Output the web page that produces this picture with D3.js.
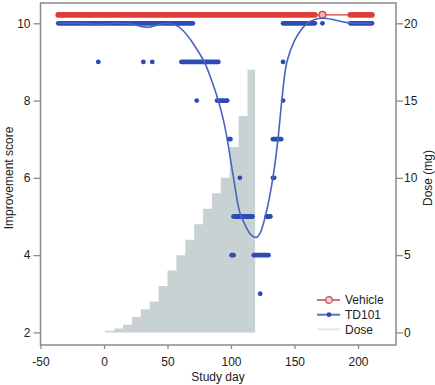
<!DOCTYPE html>
<html>
<head>
<meta charset="utf-8">
<script src="https://d3js.org/d3.v7.min.js"></script>
<style>
  body { margin: 0; background: white; }
  text { font-family: "Liberation Sans", Arial, sans-serif; font-size: 12px; fill: #222; }
</style>
</head>
<body>
<div id="chart"></div>
<script>
// Tick values
const xTicks = [-50, 0, 50, 100, 150, 200];
const scoreTicks = [2, 4, 6, 8, 10];
const doseTicks = [0, 5, 10, 15, 20];

// Weekly dose escalation (start day of each step, mg)
const doseStart = [1, 8, 15, 22, 29, 36, 43, 50, 57, 64, 71, 78, 85, 92, 99, 106, 113];
const doseMg = [0.1, 0.25, 0.5, 1, 1.5, 2, 3, 4, 5, 6, 7, 8, 9, 10, 12, 14, 17];
const doseEnd = 119;

// Observed scores: [score, first day, last day] of each run of daily points
const vehicleRuns = [[10.22, -36, 166], [10.22, 194, 211]];
const vehicleCircleDay = 172;
const vehicleLine = [[-36, 10.22], [211, 10.22]];

const td101Runs = [
    [10, -36, 70], [10, 141, 166], [10, 172, 172], [10, 194, 211],
    [9, -4.5, -4.5], [9, 31, 31], [9, 38, 38], [9, 61, 90], [9, 141, 141],
    [8, 73, 73], [8, 89, 97], [8, 141, 141],
    [7, 98.5, 99.5], [7, 133, 139.5],
    [6, 107, 107], [6, 133, 134],
    [5, 102, 117], [5, 128, 131],
    [4, 100.5, 102], [4, 118, 129.5],
    [3, 123, 123]
];

// Smoothed TD101 curve (day, score)
const td101Smooth = [
    [-36, 10], [-20, 10], [-10, 9.99], [-6, 9.97], [0, 9.99], [10, 10], [22, 9.98],
    [30, 9.91], [36, 9.9], [42, 9.96], [50, 10], [56, 9.96], [62, 9.82], [68, 9.58],
    [74, 9.28], [79, 9.0], [85, 8.5], [90, 8.0], [94, 7.5], [97, 7.0], [102, 6.0],
    [107, 5.1], [112, 4.72], [116, 4.52], [120, 4.46], [123, 4.58], [127, 5.0],
    [133, 6.0], [137, 7.0], [140, 8.0], [144, 9.0], [150, 9.55], [155, 9.82],
    [160, 10.0], [166, 10.1], [172, 10.13], [180, 10.1], [188, 10.04], [194, 10.01], [211, 10.0]
];

const legendItems = ["Vehicle", "TD101", "Dose"];

const red = "#df3b3b";
const blue = "#2b4cb5";
const blueLine = "#4a63c2";
const doseFill = "#c9d2d2";
const axisGray = "#8a8a8a";

const width = 435, height = 385;
const box = { left: 40.5, right: 396, top: 3, bottom: 345 };

const svg = d3.select("#chart").append("svg")
    .attr("width", width).attr("height", height);

const x = d3.scaleLinear().domain([-50, 200]).range([40.5, 358]);
const yScore = d3.scaleLinear().domain([2, 10]).range([332.4, 23.3]);
const yDose = d3.scaleLinear().domain([0, 20]).range([332.4, 23.3]);

// Dose steps
const doseData = doseStart.map((d, i) => [d, doseMg[i]]).concat([[doseEnd, doseMg[doseMg.length - 1]]]);
svg.append("path").datum(doseData)
    .attr("d", d3.area().curve(d3.curveStepAfter)
        .x(d => x(d[0])).y0(yDose(0)).y1(d => yDose(d[1])))
    .attr("fill", doseFill);

// Runs of points drawn as rounded bars (a single day becomes a dot)
function drawRuns(runs, r, color) {
    svg.append("g").selectAll("rect").data(runs).enter().append("rect")
        .attr("x", d => x(d[1]) - r).attr("y", d => yScore(d[0]) - r)
        .attr("width", d => x(d[2]) - x(d[1]) + 2 * r).attr("height", 2 * r)
        .attr("rx", r).attr("ry", r)
        .attr("fill", color);
}

// Vehicle
svg.append("path").datum(vehicleLine)
    .attr("d", d3.line().x(d => x(d[0])).y(d => yScore(d[1])))
    .attr("stroke", red).attr("stroke-width", 1.3).attr("fill", "none");
drawRuns(vehicleRuns, 2.9, red);
svg.append("circle")
    .attr("cx", x(vehicleCircleDay)).attr("cy", yScore(10.22)).attr("r", 3.4)
    .attr("fill", "#f2b5b5").attr("stroke", red).attr("stroke-width", 1.3);

// TD101
drawRuns(td101Runs, 2.4, blue);
svg.append("path").datum(td101Smooth)
    .attr("d", d3.line().curve(d3.curveCatmullRom.alpha(0.5)).x(d => x(d[0])).y(d => yScore(d[1])))
    .attr("stroke", blueLine).attr("stroke-width", 1.6).attr("fill", "none");

// Box
svg.append("rect")
    .attr("x", box.left).attr("y", box.top)
    .attr("width", box.right - box.left).attr("height", box.bottom - box.top)
    .attr("fill", "none").attr("stroke", axisGray).attr("stroke-width", 1.5);

// Axes
function styleAxis(g) {
    g.select(".domain").remove();
    g.selectAll(".tick line").attr("stroke", axisGray).attr("stroke-width", 1.3);
    g.selectAll(".tick text").style("font-size", "12px").attr("fill", "#222")
        .style("font-family", "'Liberation Sans', Arial, sans-serif");
}

svg.append("g").attr("transform", `translate(0,${box.bottom})`)
    .call(d3.axisBottom(x).tickValues(xTicks).tickSize(4).tickPadding(8).tickFormat(d => String(d)))
    .call(styleAxis);

svg.append("g").attr("transform", `translate(${box.left},0)`)
    .call(d3.axisLeft(yScore).tickValues(scoreTicks).tickSize(7).tickPadding(3))
    .call(styleAxis);

svg.append("g").attr("transform", `translate(${box.right},0)`)
    .call(d3.axisRight(yDose).tickValues(doseTicks).tickSize(7).tickPadding(1))
    .call(styleAxis);

// Axis titles
svg.append("text").attr("x", 218).attr("y", 381).attr("text-anchor", "middle").text("Study day");
svg.append("text").attr("transform", "translate(12.5,178) rotate(-90)")
    .attr("text-anchor", "middle").text("Improvement score");
svg.append("text").attr("transform", "translate(431.5,178) rotate(-90)")
    .attr("text-anchor", "middle").text("Dose (mg)");

// Legend
const legend = svg.append("g").attr("transform", "translate(317,300)");
const legendRow = legend.selectAll("g").data(legendItems).enter().append("g")
    .attr("transform", (d, i) => `translate(0,${i * 14.7})`);
legendRow.append("line").attr("x1", 0).attr("x2", 23).attr("y1", 0).attr("y2", 0)
    .attr("stroke", (d, i) => ["#d4717f", "#5a72c8", "#e6eaea"][i]).attr("stroke-width", 2);
legendRow.filter((d, i) => i == 0).append("circle").attr("cx", 12).attr("r", 3.3)
    .attr("fill", "#f4d0d6").attr("stroke", "#c4506a").attr("stroke-width", 1.3);
legendRow.filter((d, i) => i == 1).append("circle").attr("cx", 12).attr("r", 2.4)
    .attr("fill", blue);
legendRow.append("text").attr("x", 28).attr("y", 4.3).text(d => d);
</script>
</body>
</html>
